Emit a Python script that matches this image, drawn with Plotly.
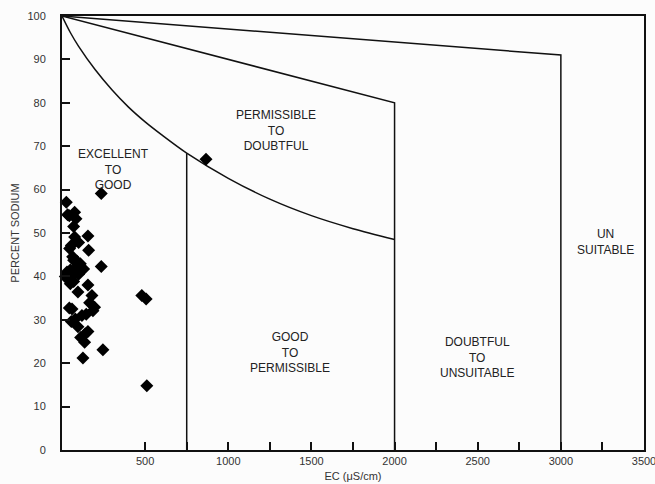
import plotly.graph_objects as go

# Sample data: EC (uS/cm) and percent sodium
ec = [26, 34, 44, 76, 84, 70, 76, 156, 100, 46, 56, 160, 236, 236, 70, 110, 130, 85,
      30, 50, 20, 60, 100, 36, 50, 70, 156, 96, 180, 480, 506, 166, 196, 186, 44, 60,
      146, 120, 80, 56, 96, 156, 140, 112, 136, 246, 126, 510, 866, 90, 40, 64]
na = [57.1, 54.2, 54.0, 54.8, 53.3, 51.5, 49.1, 49.3, 47.8, 46.4, 47.1, 46.0, 59.1, 42.3,
      43.7, 42.9, 41.7, 42.0, 41.0, 41.5, 40.0, 40.3, 40.5, 39.3, 38.3, 38.8, 38.0, 36.4,
      35.6, 35.6, 34.8, 33.9, 32.9, 32.1, 32.7, 32.5, 31.3, 31.0, 30.2, 29.6, 28.4, 27.3,
      26.8, 25.9, 24.8, 23.1, 21.2, 14.8, 67.0, 43.5, 40.8, 44.5]

# Wilcox diagram boundaries
curve_ec = [0, 50, 100, 200, 300, 400, 500, 600, 750, 1000, 1250, 1500, 1750, 2000]
curve_na = [100, 96.2, 93.0, 87.6, 83.0, 79.0, 75.6, 72.6, 68.4, 62.6, 57.8, 54.0, 51.0, 48.5]
mid_ec = [0, 2000, 2000]
mid_na = [100, 80, 0]
top_ec = [0, 3000, 3000]
top_na = [100, 91, 0]
v750_ec = [750, 750]
v750_na = [0, 68.4]

zone_labels = ["EXCELLENT<br>TO<br>GOOD", "PERMISSIBLE<br>TO<br>DOUBTFUL",
               "GOOD<br>TO<br>PERMISSIBLE", "DOUBTFUL<br>TO<br>UNSUITABLE", "UN<br>SUITABLE"]
zone_x = [307, 1287, 1371, 2495, 3271]
zone_y = [64.7, 73.6, 22.5, 21.4, 48.0]

x_tickvals = list(range(500, 3501, 250))
x_ticktext = [str(v) if v % 500 == 0 else "" for v in x_tickvals]
y_tickvals = list(range(0, 101, 10))

fig = go.Figure()
line_style = dict(color="#111111", width=1.5)
fig.add_trace(go.Scatter(x=curve_ec, y=curve_na, mode="lines", line=dict(shape="spline", smoothing=0.8, **line_style), hoverinfo="skip"))
fig.add_trace(go.Scatter(x=mid_ec, y=mid_na, mode="lines", line=line_style, hoverinfo="skip"))
fig.add_trace(go.Scatter(x=top_ec, y=top_na, mode="lines", line=line_style, hoverinfo="skip"))
fig.add_trace(go.Scatter(x=v750_ec, y=v750_na, mode="lines", line=line_style, hoverinfo="skip"))
fig.add_trace(go.Scatter(x=ec, y=na, mode="markers",
                         marker=dict(symbol="diamond", size=10, color="black"),
                         cliponaxis=False))

for t, x, y in zip(zone_labels, zone_x, zone_y):
    fig.add_annotation(x=x, y=y, text=t, showarrow=False,
                       font=dict(family="Liberation Sans, Arial, sans-serif", size=12, color="#222222"))

axis_font = dict(family="Liberation Sans, Arial, sans-serif", size=11, color="#333333")
fig.update_layout(
    width=655, height=484,
    margin=dict(l=62, r=11, t=16, b=34),
    paper_bgcolor="#fcfcfc", plot_bgcolor="#fcfcfc",
    showlegend=False,
    font=axis_font,
    xaxis=dict(range=[0, 3500], showgrid=False, zeroline=False, automargin=False,
               showline=True, linecolor="#111111", linewidth=2, mirror=True,
               ticks="inside", ticklen=8, tickwidth=1.5, tickcolor="#111111",
               tickvals=x_tickvals, ticktext=x_ticktext, tickfont=axis_font,
               ticklabeloverflow="allow",
               title=dict(text="EC (μS/cm)", font=axis_font, standoff=6)),
    yaxis=dict(range=[0, 100], showgrid=False, zeroline=False, automargin=False,
               showline=True, linecolor="#111111", linewidth=2, mirror=True,
               ticks="inside", ticklen=8, tickwidth=1.5, tickcolor="#111111",
               tickvals=y_tickvals, tickfont=axis_font, ticklabelstandoff=12,
               title=dict(text="PERCENT SODIUM", font=axis_font, standoff=6)),
)

fig.write_html("out.html")
